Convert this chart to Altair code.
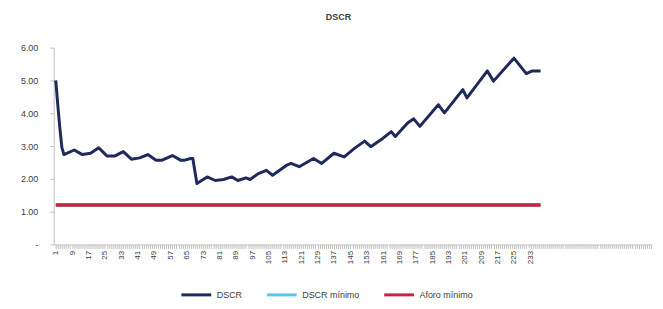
import altair as alt
import pandas as pd

titulo = "DSCR"
series = ["DSCR", "DSCR mínimo", "Aforo mínimo"]
colores = ["#1F2A5C", "#5BC5F2", "#C8243F"]

# DSCR (vertices), month index and value
dscr_mes = [1, 2, 3, 4, 5, 10, 14, 18, 22, 26, 30, 34, 38, 42, 46, 50, 53, 58, 62, 64,
            67, 68, 70, 75, 79, 83, 87, 90, 94, 96, 100, 104, 107, 114, 116, 120, 127,
            131, 137, 142, 147, 152, 155, 161, 165, 167, 173, 176, 179, 188, 191, 200,
            202, 212, 215, 225, 231, 234, 238]
dscr_valor = [5.00, 4.25, 3.55, 2.95, 2.74, 2.88, 2.74, 2.78, 2.95, 2.70, 2.70, 2.83, 2.60,
              2.64, 2.74, 2.57, 2.57, 2.71, 2.57, 2.57, 2.62, 2.62, 1.86, 2.06, 1.95, 1.98,
              2.06, 1.95, 2.03, 1.98, 2.16, 2.26, 2.11, 2.42, 2.47, 2.37, 2.62, 2.47, 2.78,
              2.67, 2.93, 3.15, 2.98, 3.24, 3.44, 3.29, 3.70, 3.83, 3.60, 4.26, 4.01, 4.72,
              4.47, 5.29, 4.98, 5.68, 5.21, 5.29, 5.29]

minimo_mes = [1, 238]
minimo_valor = [1.20, 1.20]
aforo_mes = [1, 238]
aforo_valor = [1.20, 1.20]

y_ticks = [0, 1, 2, 3, 4, 5, 6]
n_categorias = 292
ultima_etiqueta = 233
paso_etiqueta = 8

df_dscr = pd.DataFrame({"mes": dscr_mes, "valor": dscr_valor, "serie": "DSCR"})
df_min = pd.DataFrame({"mes": minimo_mes, "valor": minimo_valor, "serie": "DSCR mínimo"})
df_afo = pd.DataFrame({"mes": aforo_mes, "valor": aforo_valor, "serie": "Aforo mínimo"})

color = alt.Color(
    "serie:N",
    scale=alt.Scale(domain=series, range=colores),
    sort=series,
    legend=alt.Legend(
        title=None,
        orient="none",
        direction="horizontal",
        legendX=127,
        legendY=232,
        symbolType="stroke",
        symbolStrokeWidth=3,
        symbolSize=900,
        labelFontSize=9,
        labelColor="#404040",
        labelFont="Liberation Sans",
        columnPadding=18,
    ),
)

x = alt.X(
    "mes:Q",
    scale=alt.Scale(domain=[0, n_categorias], nice=False, zero=False),
    axis=alt.Axis(
        title=None,
        values=list(range(1, n_categorias + 1)),
        labelExpr=f"((datum.value - 1) % {paso_etiqueta} == 0 && datum.value <= {ultima_etiqueta}) ? datum.label : ''",
        format="d",
        labelAngle=270,
        labelOverlap=False,
        labelFlush=False,
        labelFontSize=8,
        labelColor="#404040",
        labelFont="Liberation Sans",
        labelPadding=2,
        tickColor="#BFBFBF",
        tickSize=4,
        domainColor="#BFBFBF",
        grid=False,
    ),
)

y = alt.Y(
    "valor:Q",
    scale=alt.Scale(domain=[0, 6], nice=False),
    axis=alt.Axis(
        title=None,
        values=y_ticks,
        labelExpr="datum.value == 0 ? '-' : format(datum.value, '.2f')",
        labelFontSize=9,
        labelColor="#404040",
        labelFont="Liberation Sans",
        labelPadding=12,
        tickColor="#BFBFBF",
        tickSize=4,
        domainColor="#BFBFBF",
        grid=False,
    ),
)

l_min = alt.Chart(df_min).mark_line(strokeWidth=3.5).encode(x=x, y=y, color=color)
l_afo = alt.Chart(df_afo).mark_line(strokeWidth=3.5).encode(x=x, y=y, color=color)
l_dscr = alt.Chart(df_dscr).mark_line(strokeWidth=3, strokeJoin="round").encode(x=x, y=y, color=color)

chart = (
    alt.layer(l_min, l_afo, l_dscr)
    .properties(
        width=601,
        height=198,
        padding={"left": 12, "top": 4, "right": 0, "bottom": 0},
        title=alt.TitleParams(
            titulo,
            fontSize=9,
            fontWeight="bold",
            color="#404040",
            font="Liberation Sans",
            anchor="middle",
            dx=-14,
            offset=22,
        ),
    )
    .configure_view(stroke=None)
)

chart.save("out.html", embed_options={"renderer": "svg", "actions": False})
